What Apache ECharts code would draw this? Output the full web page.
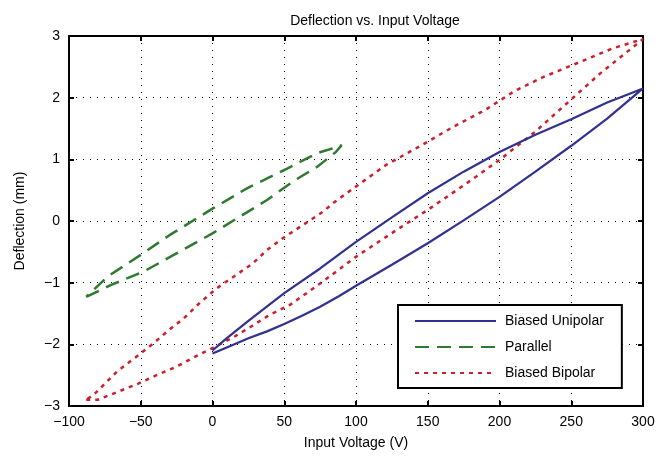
<!DOCTYPE html>
<html>
<head>
<meta charset="utf-8">
<script src="https://cdn.jsdelivr.net/npm/echarts@6/dist/echarts.min.js"></script>
<style>html,body{margin:0;padding:0;background:#fff;}#c{width:670px;height:458px;}</style>
</head>
<body>
<div id="c"></div>
<script>
// Data
var titleText = 'Deflection vs. Input Voltage';
var xName = 'Input Voltage (V)';
var yName = 'Deflection (mm)';
var seriesNames = ['Biased Unipolar', 'Parallel', 'Biased Bipolar'];

var unipolar = [
  [0,-2.15],[12,-2.03],[25,-1.90],[38,-1.79],[50,-1.67],[62,-1.54],[75,-1.39],[88,-1.22],[100,-1.05],
  [125,-0.71],[150,-0.36],[175,0.01],[200,0.39],[225,0.80],[250,1.22],[275,1.66],[300,2.15],
  [288,2.04],[275,1.92],[250,1.65],[225,1.40],[200,1.12],[175,0.80],[150,0.45],[125,0.06],
  [100,-0.34],[75,-0.77],[50,-1.17],[25,-1.62],[10,-1.90],[0,-2.10]
];

var parallel = [
  [-88,-1.23],[-71,-1.04],[-48,-0.82],[-27,-0.55],[0,-0.20],[19,0.07],[38,0.34],[56,0.64],
  [73,0.88],[86,1.12],[90,1.23],
  [84,1.18],[73,1.10],[52,0.85],[24,0.53],[0,0.20],[-30,-0.23],[-50,-0.55],[-73,-0.90],[-88,-1.23]
];

var bipolar = [
  [-88,-2.90],[-80,-2.90],[-66,-2.77],[-52,-2.64],[-39,-2.50],[-25,-2.36],[-12,-2.20],[0,-2.06],
  [15,-1.88],[27,-1.71],[40,-1.52],[54,-1.36],[77,-0.98],[100,-0.58],[128,-0.15],[150,0.18],
  [177,0.61],[200,0.99],[225,1.45],[247,1.91],[270,2.39],[300,2.95],
  [279,2.80],[251,2.53],[230,2.33],[210,2.10],[190,1.80],[168,1.53],[145,1.22],[121,0.91],
  [100,0.56],[84,0.29],[77,0.15],[49,-0.28],[38,-0.47],[28,-0.69],[3,-1.09],[-9,-1.33],
  [-20,-1.58],[-30,-1.76],[-41,-1.98],[-53,-2.20],[-66,-2.43],[-76,-2.66],[-82,-2.80],[-88,-2.90]
];

var xMin = -100, xMax = 300, xStep = 50;
var yMin = -3, yMax = 3, yStep = 1;

var colors = ['#31318f', '#2f7a2f', '#cc1f2b'];
var font = 'Liberation Sans, Arial, Helvetica, sans-serif';

function minus(v){ return String(v).replace('-', '\u2212'); }

var chart = echarts.init(document.getElementById('c'), null, {renderer:'canvas'});

function axisCommon(show){
  return {
    axisLine:{show:true, onZero:false, lineStyle:{color:'#000', width:2}},
    axisTick:{show:true, inside:true, length:5, lineStyle:{color:'#000', width:2}},
    axisLabel:{show:show, color:'#000', fontFamily:font, fontSize:14, formatter:minus},
    splitLine:{show:false}
  };
}

var xBottom = Object.assign(axisCommon(true), {
  type:'value', position:'bottom', min:xMin, max:xMax, interval:xStep,
  name:xName, nameLocation:'middle', nameGap:30,
  nameTextStyle:{color:'#000', fontFamily:font, fontSize:14},
  splitLine:{show:true, lineStyle:{color:'#000', width:1, type:[1,6]}}
});
xBottom.axisLabel.margin = 9;
var xTop = Object.assign(axisCommon(false), {type:'value', position:'top', min:xMin, max:xMax, interval:xStep});
var yLeft = Object.assign(axisCommon(true), {
  type:'value', position:'left', min:yMin, max:yMax, interval:yStep,
  name:yName, nameLocation:'middle', nameGap:42,
  nameTextStyle:{color:'#000', fontFamily:font, fontSize:14},
  splitLine:{show:true, lineStyle:{color:'#000', width:1, type:[1,6]}}
});
yLeft.axisLabel.margin = 9;
var yRight = Object.assign(axisCommon(false), {type:'value', position:'right', min:yMin, max:yMax, interval:yStep});

chart.setOption({
  animation:false,
  backgroundColor:'#fff',
  title:{text:titleText, left:370, textAlign:'center', top:9,
    textStyle:{color:'#000', fontFamily:font, fontSize:14, fontWeight:'normal'}},
  grid:{left:69, right:27, top:36, bottom:52, containLabel:false},
  xAxis:[xBottom, xTop],
  yAxis:[yLeft, yRight],
  legend:{
    orient:'vertical', left:398, top:305,
    padding:[9,18,8,16], itemGap:12, itemWidth:81, itemHeight:14,
    borderColor:'#000', borderWidth:2, backgroundColor:'#fff',
    itemStyle:{opacity:0},
    textStyle:{color:'#000', fontFamily:font, fontSize:14, padding:[0,0,0,4]},
    data:seriesNames
  },
  series:[
    {name:seriesNames[0], type:'line', data:unipolar, showSymbol:false, symbol:'none',
      lineStyle:{color:colors[0], width:2.2, type:'solid'}, itemStyle:{color:colors[0]}, z:3},
    {name:seriesNames[1], type:'line', data:parallel, showSymbol:false, symbol:'none',
      lineStyle:{color:colors[1], width:2.5, type:[14,8]}, itemStyle:{color:colors[1]}, z:2},
    {name:seriesNames[2], type:'line', data:bipolar, showSymbol:false, symbol:'none',
      lineStyle:{color:colors[2], width:2.5, type:[4,5]}, itemStyle:{color:colors[2]}, z:2}
  ]
});
</script>
</body>
</html>
